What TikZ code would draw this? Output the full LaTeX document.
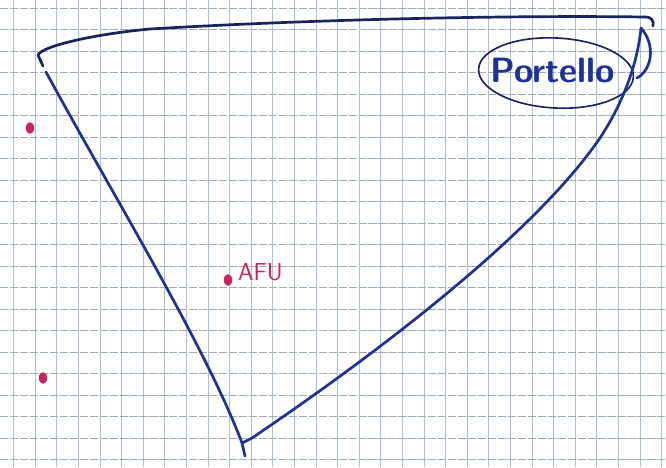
\documentclass[tikz,border=0pt]{standalone}
\usepackage{tikz}
\usetikzlibrary{shapes.geometric}
\definecolor{inkblue}{RGB}{30,50,150}
\definecolor{inknavy}{RGB}{25,35,95}
\definecolor{redink}{RGB}{205,35,85}
\definecolor{gridblue}{RGB}{170,192,220}
\definecolor{gridgray}{RGB}{165,170,185}

\begin{document}
\begin{tikzpicture}[x=0.03cm, y=-0.03cm, every node/.style={font=\sffamily},
    pen/.style={line width=2.3pt, draw=inkblue, line cap=round, line join=round},
    dot/.style={ellipse, fill=redink, inner sep=0pt, minimum width=7pt, minimum height=10pt},
    ring/.style={ellipse, draw=inknavy, line width=1.4pt, inner sep=0pt, minimum width=4.65cm, minimum height=2.1cm}]
                \useasboundingbox (0,0) rectangle (666,467);
                \fill[white] (0,0) rectangle (666,467);
                % squared paper
                \foreach \i in {0,...,30}
                    \draw[gridblue, line width=0.55pt] (13.6+21.6*\i,0) -- ++(0,467);
                \foreach \j in {0,...,21}
                    \draw[gridgray, line width=0.55pt, dash pattern=on 7pt off 1.5pt] (0,8+21.5*\j) -- ++(666,0);

                \coordinate (tl) at (46,72);
                \coordinate (bot) at (242,443);
                \coordinate (tr) at (641,28);

                \node[ring, rotate=-3] (oval) at (556,73) {};
                \node[inkblue, font=\sffamily\bfseries\fontsize{30}{32}\selectfont] (portello) at (553,70) {Portello};

                \node[dot] (d1) at (30,128) {};
                \node[dot] (d2) at (43,378) {};
                \node[dot] (d3) at (228,280) {};
                \node[redink, anchor=west, inner sep=0pt, font=\sffamily\fontsize{21}{23}\selectfont] (afu) at (238,272) {AFU};

                \draw[pen, draw=inknavy] (43,66) -- (38,55) .. controls (42,46) and (95,34) .. (150,29)
                    .. controls (300,20) and (500,15) .. (645,17) .. controls (652,17) and (654,21) .. (653,26);
                \draw[pen] (tl) .. controls (110,190) and (205,345) .. (bot) -- (245,456);
                \draw[pen] (bot) -- (252,438) .. controls (360,365) and (530,240) .. (600,138)
                    .. controls (625,100) and (638,60) .. (tr);
                \draw[pen] (tr) .. controls (656,45) and (652,70) .. (637,78);
            \end{tikzpicture}
\end{document}
